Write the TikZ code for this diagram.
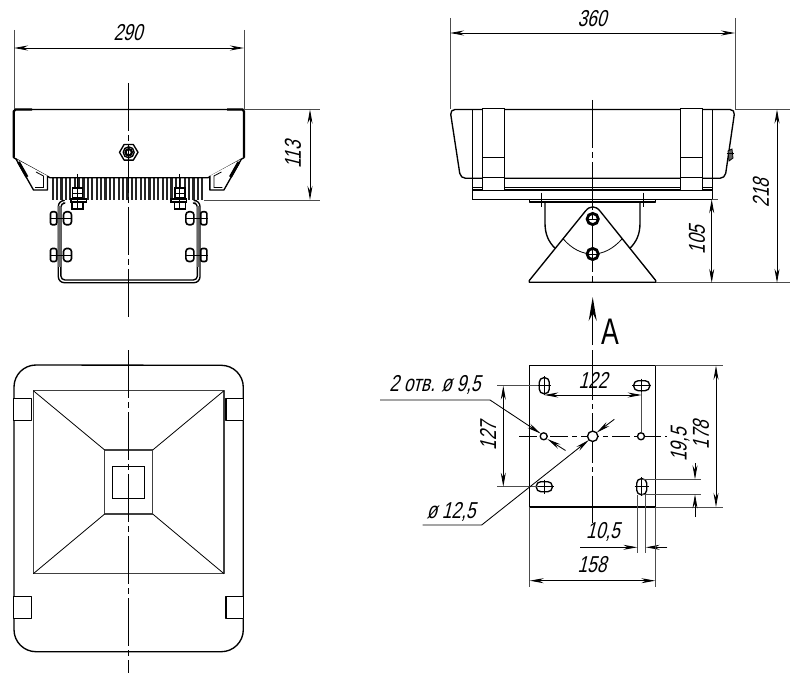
\documentclass[tikz,border=0pt]{standalone}
\usepackage{fontspec}
\newfontfamily\gost[FakeSlant=0.25,FakeStretch=0.75]{Liberation Sans}
\newfontfamily\gostup[FakeStretch=0.72]{Liberation Sans}
\usetikzlibrary{arrows.meta}

\begin{document}
\begin{tikzpicture}[
    x=1pt, y=-1pt,
    >={Stealth[length=14pt,width=5pt]},
    outline/.style={line width=1.35pt, line join=round},
    heavy/.style={line width=2.2pt},
    thinline/.style={line width=0.8pt},
    axis/.style={line width=1pt, dash pattern=on 48pt off 4pt on 6pt off 4pt},
    dim/.style={line width=0.85pt},
    ext/.style={line width=0.8pt, black!70},
    fin/.style={line width=2.3pt, black!85},
    part/.style={line width=1.2pt, fill=white},
    lbl/.style={inner sep=0pt, font=\gost\fontsize{23}{23}\selectfont}
]
\useasboundingbox (0,0) rectangle (800,676);

% Front view: fins
\foreach \i in {0,...,34} \draw[fin] ({52.7+\i*4.4},177.7) -- ++(0,22.3);

% Front view: housing
\draw[outline] (15.5,109.5) -- (242.5,109.5) -- (244,111.5) -- (244,157.7) -- (208,177.7)
    -- (50,177.7) -- (13.7,157.7) -- (13.7,111.5) -- cycle;
\draw[heavy] (13.7,157.7) -- (13.7,111.5) -- (15.5,109.5) -- (32,109.5);
\draw[heavy] (244,157.7) -- (244,111.5) -- (242.5,109.5) -- (227,109.5);

% Nut on the front
\draw[outline, fill=white] (119.5,152.3) -- (124.1,144.5) -- (133.3,144.5) -- (138,152.3)
    -- (133.3,160.1) -- (124.1,160.1) -- cycle;
\draw[outline] (128.7,152.3) circle (5.5pt);
\draw[heavy] (128.7,152.3) circle (3.2pt);

% Front view: U bracket
\draw[outline, rounded corners=6pt] (62,200.5) -- (58.3,200.5) -- (58.3,282.7) -- (200,282.7) -- (200,200.5) -- (196.5,200.5);
\draw[outline, rounded corners=4pt] (63,203) -- (60.9,203) -- (60.9,280) -- (197.4,280) -- (197.4,203) -- (195.5,203);

% Front view: mirrored fittings
\foreach \m in {0,1} {
\begin{scope}[shift={(\m*257.4,0)}, xscale={1-2*\m}]
    \draw[outline, fill=white] (16,159) -- (33.5,190) -- (47.5,190) -- (47.5,176);
    \draw[thinline] (36,172) -- (43.5,176) -- (43.5,187.5) -- (35,187.5);
    \draw[line width=3pt] (18.5,162) -- (27,177);
    % top bolts
    \draw[part] (72.5,188) rectangle (82.5,198);
    \draw[part] (71,199) rectangle (86.5,202);
    \draw[part] (72,202) rectangle (83,209);
    \draw[thinline] (77.7,174) -- (77.7,209);
    \draw[thinline] (72.5,193) -- (82.5,193);
    % side plate
    \draw[line width=2.6pt, black!60] (59.4,206) -- (59.4,267);
    % side bolts
    \foreach \yb in {218.3,255} {
        \draw[part, line width=1.6pt, rounded corners=2pt] (50.5,\yb-6.5) rectangle (56.7,\yb+6.5);
        \draw[part, line width=1.6pt, rounded corners=3pt] (63.5,\yb-6.5) rectangle (71.5,\yb+6.5);
        \draw[thinline] (49.5,\yb) -- (72,\yb);
    }
\end{scope}
}

% Front view: axis and dimensions
\draw[axis] (128.7,83) -- (128.7,317);
\draw[ext] (14,30) -- (14,109);
\draw[ext] (244,30) -- (244,109);
\draw[dim, <->] (14,48) -- (244,48);
\node[lbl] (w290) at (128,33) {290};
\draw[ext] (244,109.5) -- (320,109.5);
\draw[ext] (204,200) -- (320,200);
\draw[dim, <->] (310,109.5) -- (310,200);
\node[lbl, rotate=90] (h113) at (293,155) {113};

% Side view: housing
\draw[outline, rounded corners=5pt] (450,109.5) -- (735,109.5) -- (725,178.3) -- (460.5,178.3) -- cycle;
\draw[outline] (472.3,109.5) -- (472.3,199.3);
\draw[outline] (712.3,109.5) -- (712.3,199.3);
\draw[thinline] (482.3,109.5) -- (482.3,178.3);
\draw[thinline] (702.3,109.5) -- (702.3,178.3);
\draw[outline] (472.3,187.3) -- (712.3,187.3);
\draw[outline] (472.3,190) -- (712.3,190);
\draw[outline] (472.3,199.3) -- (712.3,199.3);
\draw[ext] (712.3,199.3) -- (718,199.3);

% Straps
\foreach \xs in {482.7,680.7} {
    \draw[part] (\xs,108.3) rectangle (\xs+21.6,190.7);
    \draw[thinline] (\xs,157.7) -- (\xs+21.6,157.7);
    \draw[thinline] (\xs,177.5) -- (\xs+21.6,177.5);
}

% Small screw on the side
\draw[thinline, fill=black!60] (728,151) -- (732,149) -- (733,158) -- (729,161) -- cycle;
\draw[thinline] (726.5,153) -- (734,153);

% Side view: flange and support
\draw[outline] (529.3,199.3) rectangle (655.7,202);
\draw[thinline] (541.7,192.7) -- (541.7,207.3);
\draw[thinline] (643.3,192.7) -- (643.3,207.3);
\draw[outline] (545,202) -- (545,223) .. controls (545,235) and (549,242) .. (555,248.3);
\draw[outline] (640,202) -- (640,223) .. controls (640,235) and (636,242) .. (630,248.3);

% Triangle foot
\draw[outline, fill=white] (529.3,282.3) -- (529.3,280.5) -- (585.5,211) .. controls (590,205.5) and (595.5,205.5) .. (600,211)
    -- (655.7,280.5) -- (655.7,282.3) -- cycle;
\draw[thinline] (563.3,239) .. controls (572,249) and (582,254) .. (592.7,254) .. controls (603,254) and (613,249) .. (622,239);
\foreach \yh in {219,254} {
    \draw[line width=2.8pt, fill=white] (592.7,\yh) circle (5.6pt);
}

% Side view: axis and dimensions
\draw[axis] (592.7,100) -- (592.7,284);
\foreach \yh in {219,254} {
    \draw[thinline] (586,\yh) -- (599.4,\yh);
}
\draw[ext] (450,18) -- (450,109);
\draw[ext] (735,18) -- (735,109);
\draw[dim, <->] (450,33) -- (735,33);
\node[lbl] (w360) at (592,19) {360};
\draw[ext] (735,109.5) -- (790,109.5);
\draw[ext] (655.7,282.8) -- (790,282.8);
\draw[dim, <->] (777,109.5) -- (777,282.8);
\node[lbl, rotate=90] (h218) at (761,193) {218};
\draw[dim, <->] (711.7,199.3) -- (711.7,282.8);
\node[lbl, rotate=90] (h105) at (697,240) {105};

% View arrow
\coordinate (viewtail) at (592.7,345);
\coordinate (viewtip) at (592.7,297);
\draw[line width=1.5pt, -{Stealth[length=24pt,width=8pt]}] (viewtail) -- (viewtip);
\node[inner sep=0pt, font=\gostup\fontsize{37}{37}\selectfont] (viewA) at (610,332) {A};

% Plan view
\draw[outline, fill=white] (14,387) arc[start angle=180, end angle=90, radius=22pt] -- (221.3,365.3)
    arc[start angle=90, end angle=0, radius=22pt] -- (243.3,629.7)
    arc[start angle=0, end angle=-90, radius=22pt] -- (36,651.7)
    arc[start angle=270, end angle=180, radius=22pt] -- cycle;
\foreach \xs in {13.7,226} \foreach \ys in {398.7,596.7} {
    \draw[outline, fill=white] (\xs,\ys) rectangle (\xs+17.8,\ys+21.8);
}
\draw[outline, black!75] (33.3,390.7) rectangle (224,573.7);
\draw[outline, black!75] (104.7,450) rectangle (152.7,514);
\draw[thinline] (112.7,466.3) rectangle (144.7,498.3);
\draw[thinline] (33.3,390.7) -- (104.7,450);
\draw[thinline] (224,390.7) -- (152.7,450);
\draw[thinline] (33.3,573.7) -- (104.7,514);
\draw[thinline] (224,573.7) -- (152.7,514);
\draw[axis] (128.7,350) -- (128.7,673);

% View A: plate and holes
\draw[outline] (529.7,365.7) rectangle (655.3,507);
\foreach \xs/\ys in {544.3/385.7, 641.7/486.7} {
    \draw[outline, fill=white, rounded corners=4.5pt] (\xs-5,\ys-8) rectangle (\xs+5,\ys+8);
    \draw[thinline] (\xs-7,\ys) -- (\xs+7,\ys);
    \draw[thinline] (\xs,\ys-9.5) -- (\xs,\ys+9.5);
}
\foreach \xs/\ys in {641.7/385.7, 544.3/486.7} {
    \draw[outline, fill=white, rounded corners=4.5pt] (\xs-8,\ys-5) rectangle (\xs+8,\ys+5);
    \draw[thinline] (\xs-9.5,\ys) -- (\xs+9.5,\ys);
    \draw[thinline] (\xs,\ys-7) -- (\xs,\ys+7);
}
\draw[axis, dash pattern=on 18pt off 4pt on 5pt off 4pt] (519.3,436.3) -- (667,436.3);
\draw[axis, dash pattern=on 50pt off 4pt on 5pt off 4pt] (592.5,350) -- (592.5,523);
\draw[outline, fill=white] (543.7,436.3) circle (3.5pt);
\draw[outline, fill=white] (592.7,436.3) circle (5.2pt);
\draw[outline, fill=white] (641,436.3) circle (3.5pt);

% View A: dimensions
\draw[ext] (641,392) -- (641,432);
\draw[dim, <->] (544.3,395) -- (641.7,395);
\node[lbl] (w122) at (593,380) {122};
\draw[ext] (497.3,385.7) -- (538,385.7);
\draw[ext] (497.3,486.7) -- (538,486.7);
\draw[dim, <->] (503.3,385.7) -- (503.3,486.7);
\node[lbl, rotate=90] (h127) at (488,436) {127};
\draw[ext] (655.3,365.7) -- (723,365.7);
\draw[ext] (655.3,507) -- (723,507);
\draw[dim, <->] (716,365.7) -- (716,507);
\node[lbl, rotate=90] (h178) at (701,435) {178};
\draw[ext] (641.7,479.3) -- (700.7,479.3);
\draw[ext] (641.7,494.3) -- (700.7,494.3);
\draw[dim, ->] (695,463) -- (695,479.3);
\draw[dim, ->] (695,517) -- (695,494.3);
\node[lbl, rotate=90] (h195) at (680,445) {19,5};
\draw[ext] (637.3,495) -- (637.3,553);
\draw[ext] (645.7,495) -- (645.7,553);
\draw[dim, ->] (580,547.3) -- (637.3,547.3);
\draw[dim, ->] (667.3,547.3) -- (645.7,547.3);
\node[lbl] (w105) at (603,532) {10,5};
\draw[ext] (529.7,507) -- (529.7,586.7);
\draw[ext] (655.3,507) -- (655.3,586.7);
\draw[dim, <->] (529.7,580.7) -- (655.3,580.7);
\node[lbl] (w158) at (592,565) {158};

% Leaders
\draw[dim, ->] (380,400) -- (490,400) -- (540.7,433.6);
\draw[dim, ->] (565.5,450.5) -- (547.3,439);
\node[lbl] (hole95) at (435,385) {2 отв. ø 9,5};
\draw[dim, ->] (422.7,525) -- (481.7,525) -- (588.9,440);
\draw[dim, ->] (614.3,419.3) -- (596.7,432.6);
\node[lbl] (hole125) at (451,511.5) {ø 12,5};
\end{tikzpicture}
\end{document}
